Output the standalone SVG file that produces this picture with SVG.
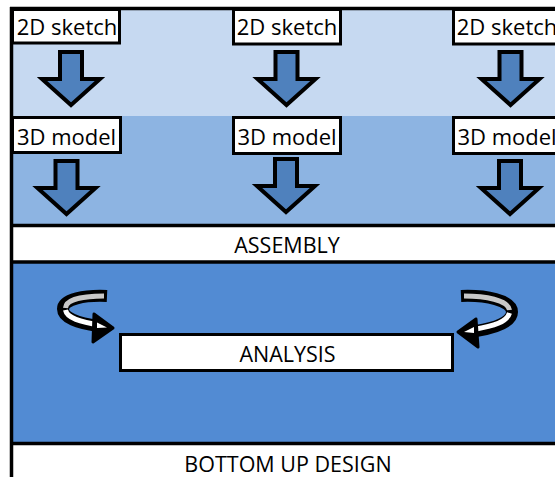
<svg xmlns="http://www.w3.org/2000/svg" xmlns:xlink="http://www.w3.org/1999/xlink" width="555" height="477" viewBox="0 0 555 477">
  <style>
    .lbl { fill: #ffffff; stroke: #000000; stroke-width: 3; }
    .txt { font-family: "Open Sans", "Liberation Sans", Arial, sans-serif; fill: #000000; text-anchor: middle; }
    .t22 { font-size: 22px; }
    .t21 { font-size: 21.5px; }
    .barr { fill: #4F81BD; stroke: #000000; stroke-width: 4; stroke-linejoin: miter; }
    .rimB { fill: none; stroke: #000000; stroke-width: 12; stroke-linecap: butt; stroke-linejoin: round; }
    .rimG { fill: none; stroke: #C8C8C8; stroke-width: 5; stroke-linecap: butt; }
    .rimW { fill: none; stroke: #FFFFFF; stroke-width: 5; stroke-linecap: butt; }
    .line { stroke: #000000; stroke-width: 3.5; fill: none; }
  </style>
  <defs>
    <path id="blockArrow" class="barr" d="M -11 0 L 11 0 L 11 27 L 29 27 L 0 53 L -29 27 L -11 27 Z"/>
  </defs>

  <!-- background bands -->
  <g id="bands">
    <rect x="11" y="8" width="544" height="108" fill="#C6D9F1"/>
    <rect x="11" y="116" width="544" height="110" fill="#8DB4E2"/>
    <rect x="11" y="226" width="544" height="36" fill="#FFFFFF"/>
    <rect x="11" y="262" width="544" height="182" fill="#528BD3"/>
    <rect x="11" y="444" width="544" height="33" fill="#FFFFFF"/>
    <line class="line" x1="10" y1="8.5" x2="555" y2="8.5"/>
    <line class="line" x1="10" y1="225.5" x2="555" y2="225.5"/>
    <line class="line" x1="10" y1="262" x2="555" y2="262"/>
    <line class="line" x1="10" y1="443.5" x2="555" y2="443.5"/>
    <line class="line" x1="11.5" y1="7" x2="11.5" y2="477"/>
  </g>

  <!-- connectors: block arrows and rotation arrows -->
  <g id="connectors">
    <use xlink:href="#blockArrow" transform="translate(71,52)"/>
    <use xlink:href="#blockArrow" transform="translate(66.5,161)"/>
    <use xlink:href="#blockArrow" transform="translate(286.5,52)"/>
    <use xlink:href="#blockArrow" transform="translate(286,159)"/>
    <use xlink:href="#blockArrow" transform="translate(510.5,52)"/>
    <use xlink:href="#blockArrow" transform="translate(510,161)"/>

    <g id="cycle-left">
      <path class="rimB" d="M 107 296 C 85 295 63 299 63 309 C 63 318 78 323 98 326"/>
      <path class="rimG" d="M 104 296 C 85 296 66 299 65.5 308"/>
      <path class="rimW" d="M 65.5 310 C 67 318 80 322 100 325"/>
      <polygon points="94,314 113,328 93,342" fill="#000000" stroke="#000000" stroke-width="3" stroke-linejoin="round"/>
      <polygon points="97,322.5 107,327.5 97,328" fill="#FFFFFF"/>
    </g>

    <g id="cycle-right">
      <path class="rimB" d="M 461 296 C 485 295 512 300 512 312 C 512 322 495 328 476 331"/>
      <path class="rimG" d="M 464 296 C 485 296 508 300 509.5 310"/>
      <path class="rimW" d="M 509.5 313 C 507 322 494 326 474 329.5"/>
      <polygon points="476,319 458,332 478,347" fill="#000000" stroke="#000000" stroke-width="3" stroke-linejoin="round"/>
      <polygon points="474,327 464,332 474,333" fill="#FFFFFF"/>
    </g>
  </g>

  <!-- column 1 -->
  <g id="sketch1">
    <rect class="lbl" x="12.5" y="9.5" width="107" height="33.5"/>
    <text class="txt t22" x="67" y="35">2D sketch</text>
  </g>
  <g id="model1">
    <rect class="lbl" x="12.5" y="117.5" width="108" height="35"/>
    <text class="txt t22" x="66.5" y="145">3D model</text>
  </g>

  <!-- column 2 -->
  <g id="sketch2">
    <rect class="lbl" x="233.5" y="9.5" width="107" height="34.5"/>
    <text class="txt t22" x="287" y="35">2D sketch</text>
  </g>
  <g id="model2">
    <rect class="lbl" x="233.5" y="117.5" width="107" height="36"/>
    <text class="txt t22" x="287" y="145">3D model</text>
  </g>

  <!-- column 3 -->
  <g id="sketch3">
    <rect class="lbl" x="453.5" y="9.5" width="107" height="34.5"/>
    <text class="txt t22" x="507" y="35">2D sketch</text>
  </g>
  <g id="model3">
    <rect class="lbl" x="453.5" y="117.5" width="107" height="36"/>
    <text class="txt t22" x="507" y="145">3D model</text>
  </g>

  <g id="assembly">
    <text class="txt t21" x="287" y="253">ASSEMBLY</text>
  </g>

  <g id="analysis">
    <rect class="lbl" x="120.5" y="334.5" width="332" height="36"/>
    <text class="txt t21" x="287.5" y="362">ANALYSIS</text>
  </g>

  <g id="bottom-up-design">
    <text class="txt t21" x="288" y="472">BOTTOM UP DESIGN</text>
  </g>
</svg>
